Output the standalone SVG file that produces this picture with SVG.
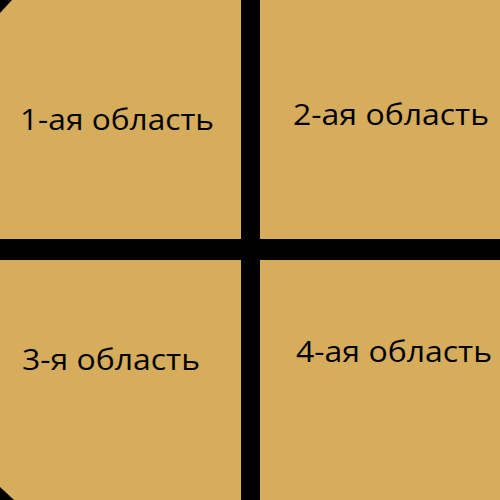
<svg xmlns="http://www.w3.org/2000/svg" width="500" height="500" viewBox="0 0 500 500">
<style>
.bg{fill:#D5AD5C}
.bar{fill:#000}
.lbl{font-family:"Open Sans","Noto Sans","DejaVu Sans",sans-serif;font-size:30px;fill:#000}
</style>
<rect class="bg" x="0" y="0" width="500" height="500"/>
<polygon class="bar" points="0,0 12,0 0,13"/>
<polygon class="bar" points="0,487 0,500 14,500"/>
<g id="cross">
<rect class="bar" x="241" y="0" width="19" height="500"/>
<rect class="bar" x="0" y="239" width="500" height="21"/>
</g>
<g id="area1"><text class="lbl" x="20" y="130" textLength="194" lengthAdjust="spacingAndGlyphs">1-ая область</text></g>
<g id="area2"><text class="lbl" x="293" y="125" textLength="196" lengthAdjust="spacingAndGlyphs">2-ая область</text></g>
<g id="area3"><text class="lbl" x="22" y="370" textLength="178" lengthAdjust="spacingAndGlyphs">3-я область</text></g>
<g id="area4"><text class="lbl" x="296" y="362" textLength="196" lengthAdjust="spacingAndGlyphs">4-ая область</text></g>
</svg>
